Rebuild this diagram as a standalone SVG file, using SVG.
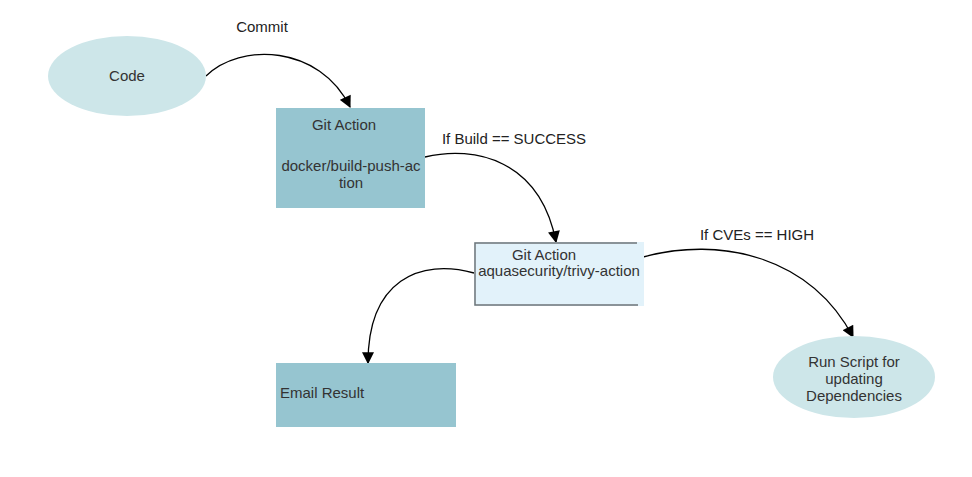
<svg xmlns="http://www.w3.org/2000/svg" width="972" height="477" viewBox="0 0 972 477">
<defs>
<marker id="arr" viewBox="0 0 10 10" refX="9" refY="5" markerWidth="13" markerHeight="12" markerUnits="userSpaceOnUse" orient="auto">
<path d="M0,0 L10,5 L0,10 Z" fill="#000"/>
</marker>
<style>
text{font-family:"Liberation Sans",Arial,sans-serif;font-size:15px;fill:#333;}
.lbl{fill:#222;}
.dark{fill:#96C5D0;}
.light{fill:#CDE6E9;}
.edge{fill:none;stroke:#000;stroke-width:1.3;marker-end:url(#arr);}
</style>
</defs>
<rect width="972" height="477" fill="#fff"/>
<g id="connectors">
<path class="edge" d="M206,76 C240,42 320,45 350,107"/>
<path class="edge" d="M425,157 C475,145 540,160 556,242"/>
<path class="edge" d="M474,273 C420,258 368,280 368,363"/>
<path class="edge" d="M643,257 C720,236 810,256 853,337"/>
<text class="lbl" x="262" y="32" text-anchor="middle">Commit</text>
<text class="lbl" x="514" y="144" text-anchor="middle">If Build == SUCCESS</text>
<text class="lbl" x="757" y="240" text-anchor="middle">If CVEs == HIGH</text>
</g>
<g id="code">
<ellipse class="light" cx="127" cy="76" rx="79" ry="40"/>
<text x="127" y="81" text-anchor="middle">Code</text>
</g>
<g id="build">
<rect class="dark" x="276" y="108" width="149" height="100"/>
<text x="344" y="130" text-anchor="middle">Git Action</text>
<text x="351" y="171" text-anchor="middle">docker/build-push-ac</text>
<text x="351" y="188" text-anchor="middle">tion</text>
</g>
<g id="trivy">
<rect x="474" y="242" width="170" height="64" fill="#E2F2FA"/>
<path d="M637,243 H475 V305 H638" fill="none" stroke="#6E7478" stroke-width="1.5"/>
<text x="544" y="260" text-anchor="middle">Git Action</text>
<text x="559" y="276" text-anchor="middle">aquasecurity/trivy-action</text>
</g>
<g id="email">
<rect class="dark" x="276" y="363" width="180" height="64"/>
<text x="280" y="398">Email Result</text>
</g>
<g id="runscript">
<ellipse class="light" cx="854" cy="377" rx="81" ry="41"/>
<text x="854" y="367" text-anchor="middle">Run Script for</text>
<text x="854" y="384" text-anchor="middle">updating</text>
<text x="854" y="401" text-anchor="middle">Dependencies</text>
</g>
</svg>
